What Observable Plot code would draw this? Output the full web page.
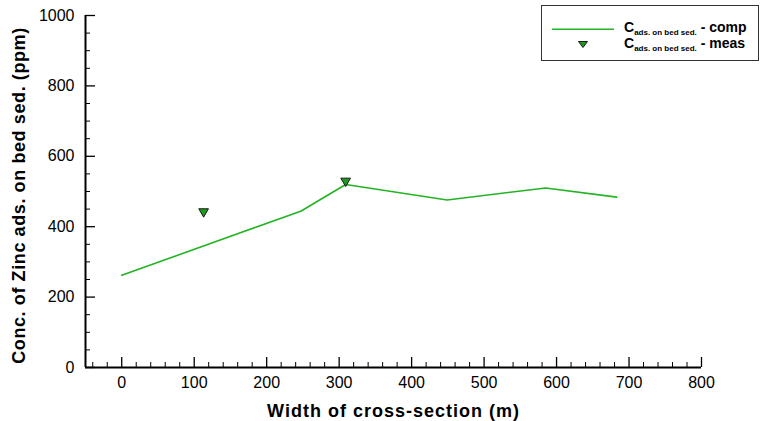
<!DOCTYPE html>
<html>
<head>
<meta charset="utf-8">
<script src="https://cdn.jsdelivr.net/npm/d3@7"></script>
<script src="https://cdn.jsdelivr.net/npm/@observablehq/plot@0.6"></script>
<style>
  html, body { margin: 0; padding: 0; background: #fff; }
  #wrap { position: relative; width: 760px; height: 421px; font-family: "Liberation Sans", Arial, Helvetica, sans-serif; }
  #legend { position: absolute; left: 541px; top: 5px; width: 218px; height: 56px; border: 1px solid #333; background: #fff; box-sizing: border-box; }
  #legend .row { position: absolute; left: 0; height: 16px; width: 100%; }
  #legend .lab { position: absolute; left: 82px; top: 0; font-weight: bold; font-size: 14px; white-space: nowrap; color: #000; }
  #legend .lab sub { font-size: 8px; vertical-align: -3px; }
  #legend svg { position: absolute; left: 0; top: 0; }
</style>
</head>
<body>
<div id="wrap"></div>
<script>
// Computed zinc concentration adsorbed on bed sediment across the section
const compWidth = [0, 247, 309, 449, 585, 683];
const compConc  = [262, 444, 520, 476, 510, 484];

// Measured values
const measWidth = [113, 309];
const measConc  = [443, 530];

// Axis ticks
const xMajor = [0, 100, 200, 300, 400, 500, 600, 700, 800];
const xMinor = d3.range(-40, 800, 20).filter(v => v % 100 !== 0);
const yMajor = [0, 200, 400, 600, 800, 1000];
const yMinor = d3.range(50, 1000, 50).filter(v => v % 200 !== 0);

const xTitle = "Width of cross-section (m)";
const yTitle = "Conc. of Zinc ads. on bed sed. (ppm)";

const comp = compWidth.map((x, i) => ({x, y: compConc[i]}));
const meas = measWidth.map((x, i) => ({x, y: measConc[i]}));

const W = 760, H = 421;
const mL = 85, mR = 59, mT = 15, mB = 54;
const frameW = W - mL - mR, frameH = H - mT - mB;

const lineColor = "#22b422";
const font = "Liberation Sans, Arial, Helvetica, sans-serif";

const chart = Plot.plot({
  width: W,
  height: H,
  marginLeft: mL,
  marginRight: mR,
  marginTop: mT,
  marginBottom: mB,
  style: {fontFamily: font, fontSize: "16px", background: "#fff", color: "#000", overflow: "visible"},
  x: {domain: [-50, 800]},
  y: {domain: [0, 1000]},
  marks: [
    // tick labels
    Plot.axisX(xMajor, {tickSize: 0, tickPadding: 9, fontSize: 16, label: null, tickFormat: d3.format("d")}),
    Plot.axisY(yMajor, {tickSize: 0, tickPadding: 11, fontSize: 16, label: null, tickFormat: d3.format("d")}),
    // inward ticks on the bottom axis
    Plot.tickX(xMajor, {x: d => d, insetTop: frameH - 10, stroke: "#000", strokeWidth: 1.3}),
    Plot.tickX(xMinor, {x: d => d, insetTop: frameH - 5, stroke: "#000", strokeWidth: 1}),
    // inward ticks on the left axis
    Plot.tickY(yMajor, {y: d => d, insetRight: frameW - 10, stroke: "#000", strokeWidth: 1.3}),
    Plot.tickY(yMinor, {y: d => d, insetRight: frameW - 5, stroke: "#000", strokeWidth: 1}),
    // axis lines
    Plot.ruleY([0], {stroke: "#000", strokeWidth: 2}),
    Plot.ruleX([-50], {stroke: "#000", strokeWidth: 2}),
    // data
    Plot.line(comp, {x: "x", y: "y", stroke: lineColor, strokeWidth: 1.6}),
    Plot.dot(meas, {x: "x", y: "y", symbol: "triangle", rotate: 180, r: 3.6,
                    fill: "#1c9a1c", stroke: "#1a1a1a", strokeWidth: 1}),
    // axis titles
    Plot.text([xTitle], {frameAnchor: "bottom", dy: 44, text: d => d, lineAnchor: "middle",
                         textAnchor: "middle", fontSize: 18, fontWeight: "bold", fill: "#000"}),
    Plot.text([yTitle], {frameAnchor: "left", dx: -66, dy: 4, rotate: -90, text: d => d, lineAnchor: "middle",
                         textAnchor: "middle", fontSize: 18, fontWeight: "bold", fill: "#000"})
  ]
});

const wrap = document.getElementById("wrap");
wrap.appendChild(chart);

// widen the title lettering slightly
d3.select(chart).selectAll("text").filter(function () { return this.textContent === xTitle; })
  .style("letter-spacing", "1px");
d3.select(chart).selectAll("text").filter(function () { return this.textContent === yTitle; })
  .style("letter-spacing", "0.6px");

// legend box
const legend = document.createElement("div");
legend.id = "legend";
legend.innerHTML = `
  <svg width="218" height="56">
    <line x1="10" x2="72" y1="23.3" y2="23.3" stroke="${lineColor}" stroke-width="1.6"></line>
    <path d="M36.5,35.5 L45.5,35.5 L41,41.5 Z" fill="#1c9a1c" stroke="#1a1a1a" stroke-width="1"></path>
  </svg>
  <div class="row" style="top:13px"><span class="lab">C<sub>ads. on bed sed.</sub> - comp</span></div>
  <div class="row" style="top:29px"><span class="lab">C<sub>ads. on bed sed.</sub> - meas</span></div>
`;
wrap.appendChild(legend);
</script>
</body>
</html>
